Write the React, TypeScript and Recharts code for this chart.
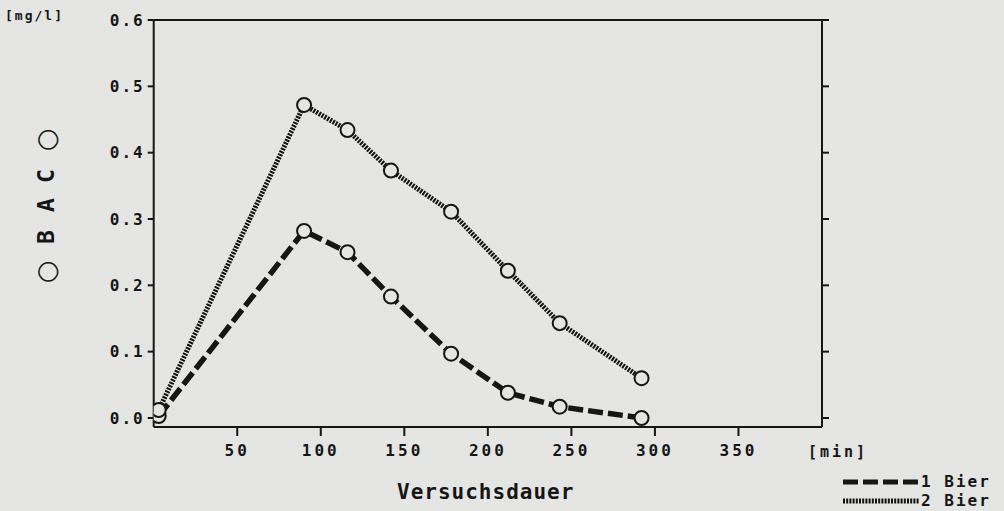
import React from "react";
import {
  LineChart,
  Line,
  XAxis,
  YAxis,
  ReferenceLine,
} from "recharts";

// Versuchsdauer [min] and BAC [mg/l]
const minutes = [3, 90, 116, 142, 178, 212, 243, 292];
const bier1 = [0.003, 0.282, 0.25, 0.183, 0.097, 0.038, 0.017, 0.0];
const bier2 = [0.012, 0.472, 0.434, 0.373, 0.311, 0.222, 0.143, 0.06];

const xTicks = [50, 100, 150, 200, 250, 300, 350];
const yTicks = [0, 0.1, 0.2, 0.3, 0.4, 0.5, 0.6];

const BG = "#e5e5e3";
const INK = "#161616";
const FONT = "'DejaVu Sans Mono', 'Liberation Mono', monospace";

const data = minutes.map((t, i) => ({ t, b1: bier1[i], b2: bier2[i] }));

const DASH1 = "15 5";
const DASH2 = "2 1.2";

const series = [
  { name: "1 Bier", dash: DASH1, color: INK },
  { name: "2 Bier", dash: DASH2, color: "#111" },
];

const dotStyle = { r: 7, stroke: INK, strokeWidth: 2, fill: BG, strokeDasharray: "0" };

const bacLetters = [
  { ch: "○", y: 272, bold: false },
  { ch: "B", y: 237, bold: true },
  { ch: "A", y: 205, bold: true },
  { ch: "C", y: 176, bold: true },
  { ch: "○", y: 140, bold: false },
];

export default function App() {
  const tickStyle = { fontFamily: FONT, fontWeight: 700, fill: INK };
  return (
    <div
      style={{
        position: "absolute",
        left: 0,
        top: 0,
        width: 1004,
        height: 511,
        background: BG,
        overflow: "hidden",
      }}
    >
      <LineChart
        width={1004}
        height={511}
        data={data}
        margin={{ top: 20, right: 152, left: 100, bottom: 54 }}
      >
        <XAxis
          dataKey="t"
          type="number"
          domain={[0, 400]}
          ticks={xTicks}
          allowDataOverflow
          height={30}
          tickSize={9}
          tickMargin={9}
          axisLine={{ stroke: INK, strokeWidth: 2 }}
          tickLine={{ stroke: INK, strokeWidth: 2 }}
          tick={{ ...tickStyle, fontSize: 16, letterSpacing: 3 }}
        />
        <YAxis
          yAxisId="left"
          type="number"
          domain={[-0.0136, 0.6]}
          ticks={yTicks}
          allowDataOverflow
          width={53.7}
          tickSize={6}
          tickMargin={3}
          tickFormatter={(v: number) => v.toFixed(1)}
          axisLine={{ stroke: INK, strokeWidth: 2 }}
          tickLine={{ stroke: INK, strokeWidth: 2 }}
          tick={{ ...tickStyle, fontSize: 16, letterSpacing: 2 }}
        />
        <YAxis
          yAxisId="right"
          orientation="right"
          type="number"
          domain={[-0.0136, 0.6]}
          ticks={yTicks}
          allowDataOverflow
          width={30}
          tickSize={7}
          tickFormatter={() => ""}
          axisLine={{ stroke: INK, strokeWidth: 2 }}
          tickLine={{ stroke: INK, strokeWidth: 2 }}
        />
        <ReferenceLine yAxisId="left" y={0.6} stroke={INK} strokeWidth={2} />
        <Line
          yAxisId="left"
          dataKey="b1"
          name="1 Bier"
          type="linear"
          stroke={INK}
          strokeWidth={5.5}
          strokeDasharray={DASH1}
          dot={dotStyle}
          isAnimationActive={false}
        />
        <Line
          yAxisId="left"
          dataKey="b2"
          name="2 Bier"
          type="linear"
          stroke="#111"
          strokeWidth={5}
          strokeDasharray={DASH2}
          dot={dotStyle}
          isAnimationActive={false}
        />
      </LineChart>

      <div
        style={{
          position: "absolute",
          left: 5,
          top: 8,
          fontFamily: FONT,
          fontWeight: 700,
          fontSize: 13,
          letterSpacing: 2,
          color: INK,
        }}
      >
        [mg/l]
      </div>

      {bacLetters.map((l, i) => (
        <div
          key={i}
          style={{
            position: "absolute",
            left: 46,
            top: l.y,
            transform: "translate(-50%, -50%) rotate(-90deg)",
            fontFamily: l.bold ? FONT : "'DejaVu Sans', sans-serif",
            fontWeight: l.bold ? 700 : 400,
            fontSize: l.bold ? 23 : 26,
            color: INK,
            lineHeight: 1,
          }}
        >
          {l.ch}
        </div>
      ))}

      <div
        style={{
          position: "absolute",
          left: 808,
          top: 443,
          fontFamily: FONT,
          fontWeight: 700,
          fontSize: 15,
          letterSpacing: 3,
          color: INK,
        }}
      >
        [min]
      </div>

      <div
        style={{
          position: "absolute",
          left: 397,
          top: 480,
          fontFamily: FONT,
          fontWeight: 700,
          fontSize: 21,
          letterSpacing: 1,
          color: INK,
        }}
      >
        Versuchsdauer
      </div>

      <div
        style={{
          position: "absolute",
          left: 843,
          top: 472,
          fontFamily: FONT,
          fontWeight: 700,
          fontSize: 16,
          color: INK,
        }}
      >
        {series.map((s) => (
          <div key={s.name} style={{ display: "flex", alignItems: "center", height: 19 }}>
            <svg width={76} height={10}>
              <line x1={0} y1={5} x2={76} y2={5} stroke={s.color} strokeWidth={5} strokeDasharray={s.dash} />
            </svg>
            <span style={{ letterSpacing: 2, marginLeft: 2 }}>{s.name}</span>
          </div>
        ))}
      </div>
    </div>
  );
}
